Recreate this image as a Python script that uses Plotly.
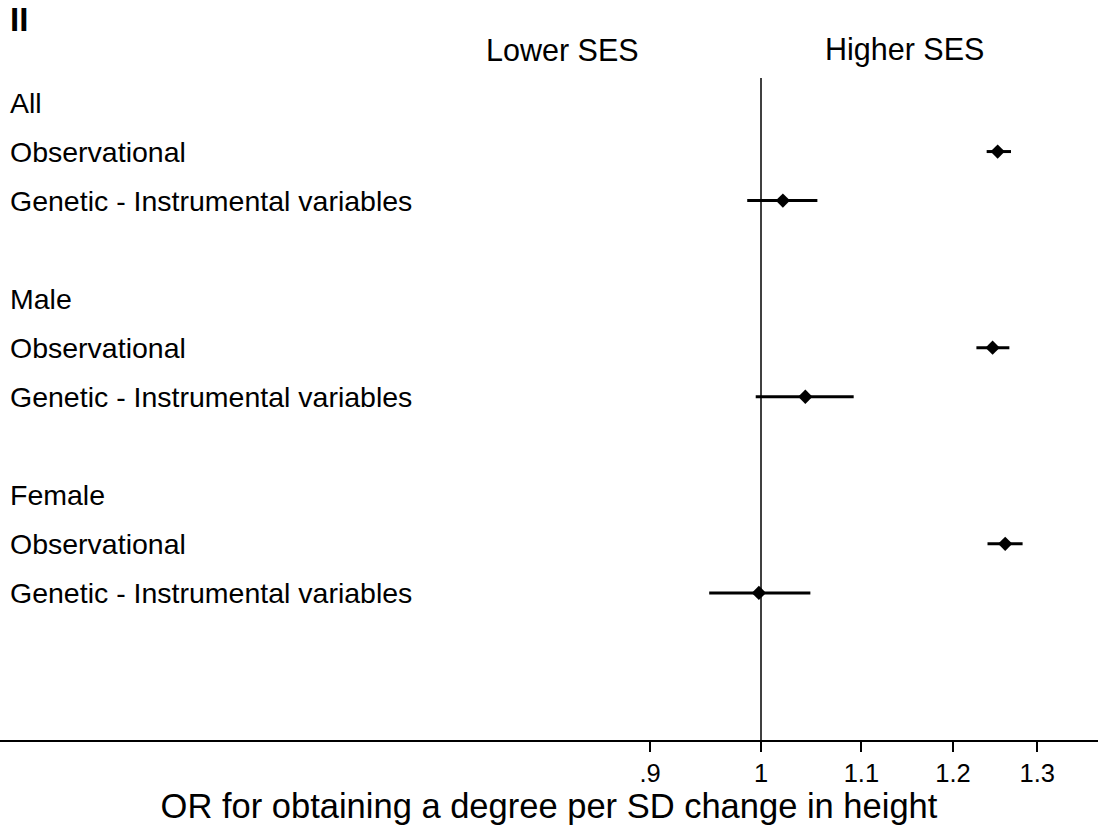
import math
import plotly.graph_objects as go

# Data
row_labels = ["All", "Observational", "Genetic - Instrumental variables", "",
              "Male", "Observational", "Genetic - Instrumental variables", "",
              "Female", "Observational", "Genetic - Instrumental variables"]
est_rows = [1, 2, 5, 6, 9, 10]
est = [1.252, 1.021, 1.246, 1.043, 1.261, 0.998]
lo = [1.239, 0.987, 1.227, 0.995, 1.240, 0.952]
hi = [1.268, 1.055, 1.266, 1.092, 1.282, 1.048]
tick_vals = [0.9, 1.0, 1.1, 1.2, 1.3]
tick_text = [".9", "1", "1.1", "1.2", "1.3"]
header_left = "Lower SES"
header_right = "Higher SES"
x_title = "OR for obtaining a degree per SD change in height"
panel_label = "II"

FONT = "Liberation Sans, Arial, Helvetica, sans-serif"

fig = go.Figure()

# CI lines
xs, ys = [], []
for r, a, b in zip(est_rows, lo, hi):
    xs += [a, b, None]
    ys += [r, r, None]
fig.add_trace(go.Scatter(x=xs, y=ys, mode="lines",
                         line=dict(color="black", width=3),
                         hoverinfo="skip", showlegend=False))
# Point estimates
fig.add_trace(go.Scatter(x=est, y=est_rows, mode="markers",
                         marker=dict(symbol="diamond", size=11, color="black"),
                         showlegend=False))

# Reference line at 1
fig.add_shape(type="line", xref="x", yref="paper", x0=1, x1=1, y0=0, y1=1,
              line=dict(color="black", width=1.5), layer="below")

# Row labels
for i, lab in enumerate(row_labels):
    if lab:
        fig.add_annotation(x=8 / 1098, xref="paper", y=i, yref="y", text=lab,
                           showarrow=False, xanchor="left", yanchor="middle",
                           font=dict(family=FONT, size=28.5, color="black"))

# Headers
for txt, xp in [(header_left, 562), (header_right, 904)]:
    fig.add_annotation(x=xp / 1098, xref="paper", y=1, yref="paper",
                       yanchor="bottom", yshift=9, text=txt, showarrow=False,
                       xanchor="center",
                       font=dict(family=FONT, size=30.5, color="black"))

fig.add_annotation(x=8 / 1098, xref="paper", y=1, yref="paper", yshift=38,
                   text="<b>" + panel_label + "</b>", showarrow=False,
                   xanchor="left", yanchor="bottom",
                   font=dict(family=FONT, size=33, color="black"))

x_lo = math.exp(-761 / 1053)
x_hi = math.exp(337 / 1053)

fig.update_layout(
    width=1098, height=833,
    margin=dict(l=0, r=0, t=78, b=93),
    paper_bgcolor="white", plot_bgcolor="white",
    xaxis=dict(type="log", range=[math.log10(x_lo), math.log10(x_hi)],
               tickvals=tick_vals, ticktext=tick_text,
               ticks="outside", ticklen=10, tickwidth=1.5, tickcolor="black",
               showline=True, linecolor="black", linewidth=1.5,
               showgrid=False, zeroline=False,
               tickfont=dict(family=FONT, size=25.5, color="black"),
               title=dict(text=x_title, standoff=2,
                          font=dict(family=FONT, size=34.5, color="black"))),
    yaxis=dict(range=[13, -0.5], showgrid=False, zeroline=False,
               showticklabels=False, ticks="", showline=False),
)

fig.write_html("out.html", config={"displayModeBar": False},
               post_script="document.body.style.margin='0';")
